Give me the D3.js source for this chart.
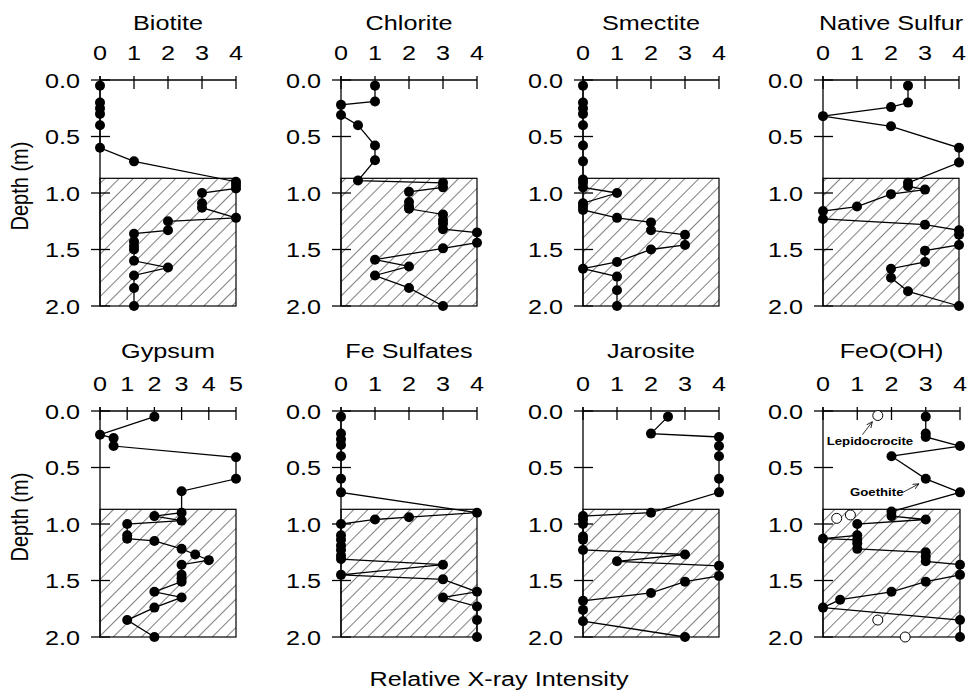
<!DOCTYPE html>
<html>
<head>
<meta charset="utf-8">
<script src="https://cdn.jsdelivr.net/npm/d3@7"></script>
<style>
  body { margin: 0; background: #fff; }
  svg { display: block; font-family: "Liberation Sans", Arial, Helvetica, sans-serif; }
</style>
</head>
<body>
<svg width="967" height="691"></svg>
<script>
// depth ticks (m) and the hatched (altered) zone
const depthTicks = [0, 0.5, 1, 1.5, 2];
const hatchZone = [0.87, 2.0];

// [relative intensity, depth] in sampling order
const biotite = [[0, 0.05], [0, 0.2], [0, 0.25], [0, 0.3], [0, 0.4], [0, 0.6], [1, 0.72], [4, 0.9], [4, 0.93], [4, 0.96],
  [3, 1.0], [3, 1.09], [3, 1.13], [4, 1.22], [2, 1.25], [2, 1.33], [1, 1.36], [1, 1.43], [1, 1.47], [1, 1.5],
  [1, 1.6], [2, 1.66], [1, 1.73], [1, 1.84], [1, 2.0]];
const chlorite = [[1, 0.05], [1, 0.19], [0, 0.22], [0, 0.31], [0.5, 0.4], [1, 0.58], [1, 0.71], [0.5, 0.89], [3, 0.91], [3, 0.95],
  [2, 0.99], [2, 1.08], [2, 1.12], [2, 1.14], [3, 1.19], [3, 1.24], [3, 1.27], [3, 1.32], [4, 1.35], [4, 1.44],
  [3, 1.49], [1, 1.59], [2, 1.65], [1, 1.73], [2, 1.84], [3, 2.0]];
const smectite = [[0, 0.05], [0, 0.2], [0, 0.25], [0, 0.3], [0, 0.4], [0, 0.58], [0, 0.72], [0, 0.88], [0, 0.91], [0, 0.95],
  [1, 1.0], [0, 1.09], [0, 1.12], [0, 1.15], [1, 1.22], [2, 1.26], [2, 1.33], [3, 1.37], [3, 1.46], [2, 1.5],
  [1, 1.61], [0, 1.67], [1, 1.74], [1, 1.86], [1, 2.0]];
const nativeSulfur = [[2.5, 0.05], [2.5, 0.2], [2, 0.24], [0, 0.32], [2, 0.41], [4, 0.6], [4, 0.73], [2.5, 0.91], [2.5, 0.94], [3, 0.97],
  [2, 1.01], [1, 1.12], [0, 1.16], [0, 1.23], [3, 1.28], [4, 1.33], [4, 1.37], [4, 1.46], [3, 1.51], [3, 1.61],
  [2, 1.67], [2, 1.75], [2.5, 1.87], [4, 2.0]];
const gypsum = [[2, 0.05], [0, 0.21], [0.5, 0.24], [0.5, 0.31], [5, 0.41], [5, 0.6], [3, 0.71], [3, 0.9], [2, 0.93], [3, 0.97],
  [1, 1.0], [1, 1.1], [1, 1.13], [2, 1.15], [3, 1.22], [3.5, 1.27], [4, 1.32], [3, 1.36], [3, 1.45], [3, 1.48],
  [3, 1.51], [2, 1.6], [3, 1.65], [2, 1.74], [1, 1.85], [2, 2.0]];
const feSulfates = [[0, 0.05], [0, 0.2], [0, 0.25], [0, 0.3], [0, 0.4], [0, 0.6], [0, 0.72], [4, 0.9], [2, 0.94], [1, 0.96],
  [0, 1.0], [0, 1.1], [0, 1.14], [0, 1.19], [0, 1.23], [0, 1.28], [0, 1.31], [3, 1.36], [0, 1.45], [3, 1.49],
  [4, 1.6], [3, 1.65], [4, 1.73], [4, 1.85], [4, 2.0]];
const jarosite = [[2.5, 0.05], [2, 0.2], [4, 0.23], [4, 0.31], [4, 0.4], [4, 0.6], [4, 0.72], [2, 0.9], [0, 0.93], [0, 0.96],
  [0, 1.0], [0, 1.11], [0, 1.14], [0, 1.23], [3, 1.27], [1, 1.33], [4, 1.37], [4, 1.46], [3, 1.51], [2, 1.61],
  [0, 1.68], [0, 1.76], [0, 1.86], [3, 2.0]];
const goethite = [[3, 0.05], [3, 0.2], [3, 0.23], [4, 0.31], [2, 0.4], [3, 0.6], [4, 0.72], [2, 0.89], [2, 0.93], [3, 0.96],
  [1, 1.0], [1, 1.1], [0, 1.13], [1, 1.14], [1, 1.17], [1, 1.22], [3, 1.25], [3, 1.29], [3, 1.33], [4, 1.36],
  [4, 1.45], [3, 1.51], [2, 1.6], [0.5, 1.67], [0, 1.74], [4, 1.85], [4, 2.0]];
const lepidocrocite = [[1.6, 0.04], [0.8, 0.92], [0.4, 0.95], [1.6, 1.85], [2.4, 2.0]];

const titles = ['Biotite', 'Chlorite', 'Smectite', 'Native Sulfur', 'Gypsum', 'Fe Sulfates', 'Jarosite', 'FeO(OH)'];
const series = [biotite, chlorite, smectite, nativeSulfur, gypsum, feSulfates, jarosite, goethite];
const xMax = [4, 4, 4, 4, 5, 4, 4, 4];

const svg = d3.select('svg');
const SX = 1.2; // lettering in the reference is stretched sideways
const colX = [100, 341, 583, 823];
const rowY = [80, 411];
const panelW = [136, 136, 136, 136, 136, 136, 136, 137];
const panelH = 226;
const titleGap = [50, 53];

const defs = svg.append('defs');
defs.append('pattern')
  .attr('id', 'hatch')
  .attr('patternUnits', 'userSpaceOnUse')
  .attr('width', 10)
  .attr('height', 10)
  .attr('patternTransform', 'rotate(45)')
  .append('line')
  .attr('x1', 0).attr('y1', 0).attr('x2', 0).attr('y2', 10)
  .attr('stroke', '#000')
  .attr('stroke-width', 1);

defs.append('marker')
  .attr('id', 'arrow')
  .attr('markerUnits', 'userSpaceOnUse')
  .attr('markerWidth', 8).attr('markerHeight', 8)
  .attr('refX', 6).attr('refY', 3)
  .attr('orient', 'auto')
  .append('path')
  .attr('d', 'M0,0.3 L6,3 L0,5.7')
  .attr('fill', 'none')
  .attr('stroke', '#000')
  .attr('stroke-width', 0.8);

const label = (g, x, y, txt, size, anchor) => g.append('text')
  .attr('transform', `translate(${x},${y}) scale(${SX},1)`)
  .attr('text-anchor', anchor)
  .attr('font-size', size)
  .attr('fill', '#000')
  .text(txt);

const panels = [];

series.forEach((data, i) => {
  const col = i % 4;
  const row = Math.floor(i / 4);
  const x0 = colX[col];
  const y0 = rowY[row];
  const w = panelW[i];
  const x = d3.scaleLinear().domain([0, xMax[i]]).range([x0, x0 + w]);
  const y = d3.scaleLinear().domain([0, 2]).range([y0, y0 + panelH]);
  const g = svg.append('g').attr('class', 'panel');
  panels.push({ g, x, y });

  // hatched zone
  g.append('rect')
    .attr('x', x(0))
    .attr('y', y(hatchZone[0]))
    .attr('width', x(xMax[i]) - x(0))
    .attr('height', y(hatchZone[1]) - y(hatchZone[0]))
    .attr('fill', 'url(#hatch)')
    .attr('stroke', '#000')
    .attr('stroke-width', 1.2);

  // axes
  const ax = g.append('g').attr('stroke', '#000').attr('stroke-width', 1.3);
  ax.append('line').attr('x1', x(0)).attr('x2', x(xMax[i])).attr('y1', y(0)).attr('y2', y(0));
  ax.append('line').attr('x1', x(0)).attr('x2', x(0)).attr('y1', y(0) - 4).attr('y2', y(2));
  ax.selectAll('.xt').data(d3.range(0, xMax[i] + 1)).enter().append('line')
    .attr('x1', d => x(d)).attr('x2', d => x(d))
    .attr('y1', y(0) - 4).attr('y2', y(0) + 9);
  ax.selectAll('.yt').data(depthTicks).enter().append('line')
    .attr('x1', x(0) - 9).attr('x2', x(0) + 10)
    .attr('y1', d => y(d)).attr('y2', d => y(d));

  d3.range(0, xMax[i] + 1).forEach(d => label(g, x(d), y(0) - 20, d, 21, 'middle'));
  depthTicks.forEach(d => label(g, x(0) - 20, y(d) + 7.5, d3.format('.1f')(d), 21, 'end'));
  label(g, (x(0) + x(xMax[i])) / 2, y(0) - titleGap[row], titles[i], 21, 'middle');

  // profile
  g.append('path')
    .datum(data)
    .attr('d', d3.line().x(d => x(d[0])).y(d => y(d[1])))
    .attr('fill', 'none')
    .attr('stroke', '#000')
    .attr('stroke-width', 1.3);
  g.selectAll('circle.s').data(data).enter().append('circle')
    .attr('cx', d => x(d[0]))
    .attr('cy', d => y(d[1]))
    .attr('r', 5)
    .attr('fill', '#000');
});

// FeO(OH): lepidocrocite open circles and labels
const fe = panels[7];
fe.g.selectAll('circle.l').data(lepidocrocite).enter().append('circle')
  .attr('cx', d => fe.x(d[0]))
  .attr('cy', d => fe.y(d[1]))
  .attr('r', 5)
  .attr('fill', '#fff')
  .attr('stroke', '#000')
  .attr('stroke-width', 1);

label(fe.g, fe.x(1.37), fe.y(0.3), 'Lepidocrocite', 11, 'middle').attr('font-weight', 'bold');
label(fe.g, fe.x(1.57), fe.y(0.75), 'Goethite', 11, 'middle').attr('font-weight', 'bold');
fe.g.append('line')
  .attr('x1', fe.x(1.15)).attr('y1', fe.y(0.21))
  .attr('x2', fe.x(1.44)).attr('y2', fe.y(0.095))
  .attr('stroke', '#000').attr('stroke-width', 0.8)
  .attr('marker-end', 'url(#arrow)');
fe.g.append('line')
  .attr('x1', fe.x(2.33)).attr('y1', fe.y(0.72))
  .attr('x2', fe.x(2.8)).attr('y2', fe.y(0.645))
  .attr('stroke', '#000').attr('stroke-width', 0.8)
  .attr('marker-end', 'url(#arrow)');

// shared axis titles
rowY.forEach((y0) => {
  svg.append('text')
    .attr('transform', `translate(28,${y0 + panelH / 2 - 7}) scale(${SX},1) rotate(-90)`)
    .attr('text-anchor', 'middle')
    .attr('font-size', 20)
    .text('Depth (m)');
});
label(svg, 499, 686, 'Relative X-ray Intensity', 21, 'middle');
</script>
</body>
</html>
